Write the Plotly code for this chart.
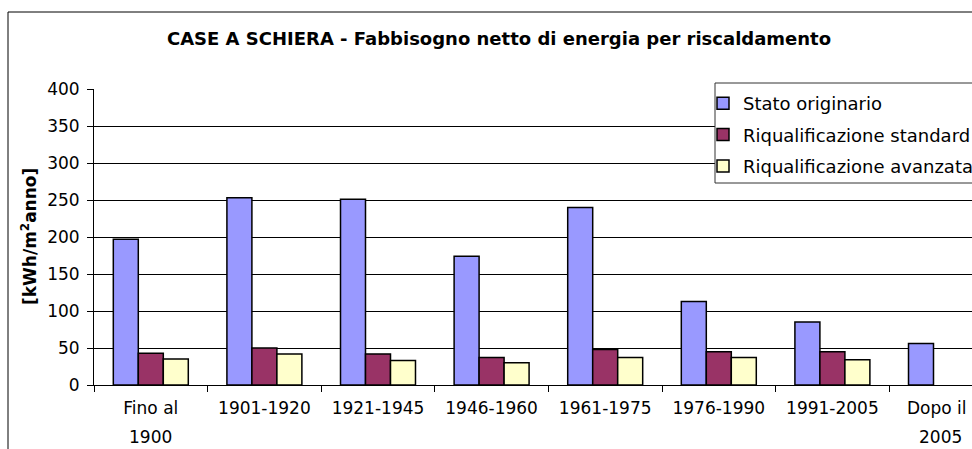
import plotly.graph_objects as go

# Building periods (x categories) and heating energy need per scenario [kWh/m2 anno]
categories = ["Fino al 1900", "1901-1920", "1921-1945", "1946-1960",
              "1961-1975", "1976-1990", "1991-2005", "Dopo il 2005"]
tick_first_line = ["Fino al", "1901-1920", "1921-1945", "1946-1960",
                   "1961-1975", "1976-1990", "1991-2005", "Dopo il"]
tick_second_line = ["1900", "", "", "", "", "", "", "2005"]

stato_originario = [197, 253, 251, 174, 240, 113, 85, 56]
riqual_standard = [43, 50, 42, 37, 48, 45, 45, None]
riqual_avanzata = [35, 42, 33, 30, 37, 37, 34, None]

y_ticks = [0, 50, 100, 150, 200, 250, 300, 350, 400]

W, H = 972, 449
L, R, T, B = 94, 0, 89, 64
PW, PH = W - L - R, H - T - B


def px_x(p):
    return (p - L) / PW


def px_y(p):
    return (H - B - p) / PH


FONT = "DejaVu Sans"
series = [
    ("Stato originario", stato_originario, "#9999FF"),
    ("Riqualificazione standard", riqual_standard, "#993366"),
    ("Riqualificazione avanzata", riqual_avanzata, "#FFFFCC"),
]

fig = go.Figure()
for i, (name, vals, col) in enumerate(series):
    fig.add_trace(go.Bar(
        x=categories, y=vals, name=name, legendgroup=f"g{i}",
        marker=dict(color=col, line=dict(color="black", width=1.5)),
    ))

annotations = [
    dict(text="<b>[kWh/m<sup>2</sup>anno]</b>", textangle=-90,
         x=px_x(29), y=0.5, xref="paper", yref="paper",
         xanchor="center", yanchor="middle", showarrow=False,
         font=dict(family=FONT, size=17, color="black")),
]

# the last category label sits at the right edge, so it is drawn as an
# annotation nudged inwards instead of as an axis tick label
last = len(categories) - 1
annotations.append(dict(
    text=tick_first_line[last], x=categories[last], xshift=-9,
    y=px_y(408), xref="x", yref="paper",
    xanchor="center", yanchor="middle", showarrow=False,
    font=dict(family=FONT, size=17, color="black")))
for i, (cat, second) in enumerate(zip(categories, tick_second_line)):
    if second:
        annotations.append(dict(
            text=second, x=cat, xshift=-6 if i == last else 0,
            y=px_y(437), xref="x", yref="paper",
            xanchor="center", yanchor="middle", showarrow=False,
            font=dict(family=FONT, size=17, color="black")))

shapes = [
    # outer chart frame
    dict(type="rect", xref="paper", yref="paper",
         x0=px_x(8), x1=px_x(W + 20), y0=px_y(H + 20), y1=px_y(12),
         line=dict(color="black", width=1), fillcolor="rgba(0,0,0,0)",
         layer="below"),
    # legend box
    dict(type="rect", xref="paper", yref="paper",
         x0=px_x(715), x1=px_x(W + 20), y0=px_y(183), y1=px_y(83),
         line=dict(color="#333333", width=1), fillcolor="white",
         layer="above"),
]

fig.update_layout(
    width=W, height=H,
    margin=dict(l=L, r=R, t=T, b=B, pad=0, autoexpand=False),
    paper_bgcolor="white", plot_bgcolor="white",
    font=dict(family=FONT, size=17, color="black"),
    title=dict(text="<b>CASE A SCHIERA - Fabbisogno netto di energia per riscaldamento</b>",
               x=499 / W, xref="container", xanchor="center",
               y=1 - 39 / H, yref="container", yanchor="middle",
               font=dict(family=FONT, size=18, color="black")),
    barmode="group", bargap=0.34, bargroupgap=0,
    showlegend=True,
    legend=dict(x=px_x(703), y=px_y(85), xref="paper", yref="paper",
                xanchor="left", yanchor="top",
                bgcolor="rgba(0,0,0,0)", borderwidth=0,
                font=dict(family=FONT, size=18, color="black"),
                tracegroupgap=5, traceorder="grouped"),
    xaxis=dict(type="category", categoryorder="array", categoryarray=categories,
               tickmode="array", tickvals=categories[:last],
               ticktext=tick_first_line[:last],
               range=[-0.5, -0.5 + PW / 113.6], automargin=False,
               showline=True, linecolor="black", linewidth=1,
               ticks="outside", tickson="boundaries", ticklen=6,
               tickcolor="black", showgrid=False, ticklabelstandoff=8,
               tickfont=dict(family=FONT, size=17, color="black")),
    yaxis=dict(range=[0, 400], tickmode="array", tickvals=y_ticks,
               automargin=False, ticklabelstandoff=4,
               showline=True, linecolor="black", linewidth=1,
               ticks="outside", ticklen=6, tickcolor="black",
               showgrid=True, gridcolor="black", gridwidth=1,
               zeroline=False,
               tickfont=dict(family=FONT, size=17, color="black")),
    shapes=shapes, annotations=annotations,
)

fig.write_html("out.html")
